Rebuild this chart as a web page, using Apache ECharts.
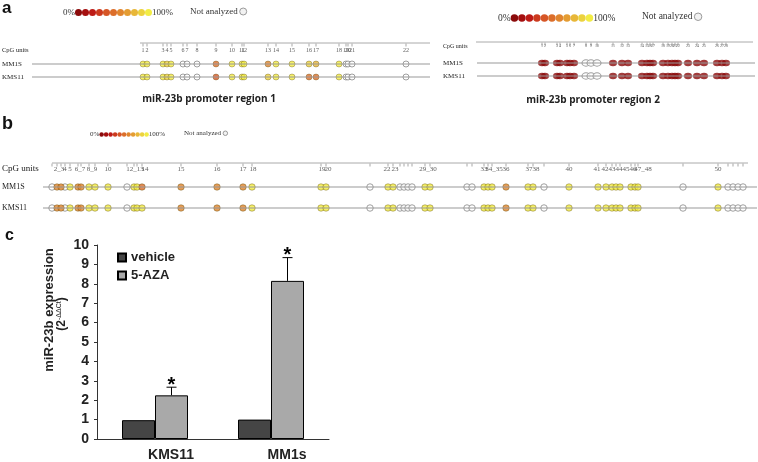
<!DOCTYPE html>
<html lang="en">
<head>
<meta charset="UTF-8">
<title>miR-23b promoter methylation and expression</title>
<script src="https://cdn.jsdelivr.net/npm/echarts@6/dist/echarts.min.js"></script>
<style>html,body{margin:0;padding:0;background:#fff}</style>
</head>
<body>
<div id="main" style="width:758px;height:462px"></div>
<script>
// methylation levels are in tenths: 0 = 0%, 10 = 100%, null = not analyzed
// positions are measured along each region from the start of the CpG ruler

// a - promoter region 1
var r1Pos = [3, 7, 23, 27, 31, 43, 47, 57, 76, 92, 102, 104, 128, 136, 152, 169, 176, 199, 206, 208, 212, 266];
var r1Units = ['1', '2', '3', '4', '5', '6', '7', '8', '9', '10', '11', '12', '13', '14', '15', '16', '17', '18', '19', '20', '21', '22'];
var r1MM1S = [10, 10, 10, 9, 10, null, null, null, 5, 10, 10, 10, 6, 10, 10, 9, 8, 10, null, null, null, null];
var r1KMS11 = [10, 10, 10, 9, 10, null, null, null, 4, 10, 10, 10, 9, 10, 10, 5, 5, 10, null, null, null, null];

// a - promoter region 2
var r2Pos = [67, 70, 82, 85, 92, 95, 99, 111, 116, 122, 138, 147, 153, 167, 172, 175, 178, 188, 193, 197, 200, 203, 213, 222, 229, 242, 247, 251];
var r2Units = ['1', '2', '3', '4', '5', '6', '7', '8', '9', '10', '11', '12', '13', '14', '15', '16', '17', '18', '19', '20', '21', '22', '23', '24', '25', '26', '27', '28'];
var r2MM1S = [0, 0, 0, 0, 0, 0, 0, null, null, null, 0, 0, 0, 0, 0, 0, 0, 0, 0, 0, 0, 0, 0, 0, 0, 0, 0, 0];
var r2KMS11 = [0, 0, 0, 0, 0, 0, 0, null, null, null, 0, 0, 0, 0, 0, 0, 0, 0, 0, 0, 0, 0, 0, 0, 0, 0, 0, 0];

// b - extended region
var bPos = [0, 5, 9, 13, 18, 26, 29, 37, 43, 56, 75, 82, 85, 90, 129, 165, 191, 200, 269, 274, 318, 336, 341, 348, 352, 356, 360,
    373, 378, 415, 420, 432, 436, 440, 454, 476, 481, 492, 517, 546, 554, 560, 564, 568, 579, 583, 586, 631, 666, 676, 681, 686, 691];
var bMM1S = [null, 6, 6, null, 10, 6, 6, 10, 10, 10, null, 10, 10, 5, 6, 6, 6, 10, 10, 10, null, 10, 10, null, null, null, null,
    10, 10, null, null, 10, 10, 10, 6, 10, 10, null, 10, 10, 10, 10, 10, 10, 10, 10, 10, null, 10, null, null, null, null];
var bKMS11 = [null, 6, 6, null, 10, 6, 6, 10, 10, 10, null, 10, 10, 10, 6, 6, 6, 10, 10, 10, null, 10, 10, null, null, null, null,
    10, 10, null, null, 10, 10, 10, 6, 10, 10, null, 10, 10, 10, 10, 10, 10, 10, 10, 10, null, 10, null, null, null, null];
var bLabelPos = [7, 13, 18, 28, 40, 56, 83, 93, 129, 165, 191, 201, 270, 276, 335, 343, 376, 432, 442, 454, 477, 484, 517,
    545, 553, 560, 567, 574, 581, 591, 666];
var bLabelText = ['2_3', '4', '5', '6_7', '8_9', '10', '12_13', '14', '15', '16', '17', '18', '19', '20', '22', '23', '29_30', '33', '34_35', '36', '37', '38', '40',
    '41', '42', '43', '44', '45', '46', '47_48', '50'];

// c - miR-23b expression
var cellLines = ['KMS11', 'MM1s'];
var vehicle = [0.97, 1.0];
var aza = [2.25, 8.15];
var azaErr = [0.42, 1.2];

var methColors = ['#8b0b0b', '#a50f0f', '#bd1b16', '#cc3a1e', '#d65626', '#dc6e2a', '#e0852e', '#e49c32', '#e8b738', '#ecd23e', '#f2ec44'];
var serif = 'Liberation Serif';
var sans = 'Liberation Sans';

var myChart = echarts.init(document.getElementById('main'));
var grids = [], xAxes = [], yAxes = [], series = [], visualMaps = [], graphics = [];

function txt(x, y, s, size, font, extra) {
    var st = {text: s, fontSize: size, fontFamily: font, fill: '#222', verticalAlign: 'middle', align: 'left'};
    for (var k in extra) st[k] = extra[k];
    graphics.push({type: 'text', x: x, y: y, style: st, silent: true});
}

function notAnalyzed(x, y, size, r) {
    txt(x, y, 'Not analyzed', size, serif, {fill: '#333'});
    graphics.push({type: 'circle', shape: {cx: x + size * 5.3 + r + 2, cy: y, r: r}, style: {fill: '#f2f2f2', stroke: '#999', lineWidth: 1}, silent: true});
}

// one methylation panel: ruler with CpG ticks and labels, then one line of dots per cell line
function addPanel(p) {
    var gi = grids.length;
    grids.push({left: p.rulerLeft + p.xMin, width: p.xMax - p.xMin, top: p.top, height: p.height});
    xAxes.push({type: 'value', gridIndex: gi, min: p.xMin, max: p.xMax, show: false});
    yAxes.push({type: 'value', gridIndex: gi, min: 0, max: p.height, inverse: true, show: false});
    var base = {xAxisIndex: gi, yAxisIndex: gi, silent: true, animation: false};
    function s(o) { for (var k in base) o[k] = base[k]; series.push(o); return series.length - 1; }

    s({type: 'line', data: [[0, p.rulerY], [p.rulerLen, p.rulerY]], symbol: 'none', lineStyle: {color: '#aaa', width: 1}});
    s({type: 'scatter', data: p.pos.map(function (x) { return [x, p.rulerY + 2]; }), symbol: 'rect', symbolSize: [0.8, 3], itemStyle: {color: '#777'}});
    s({type: 'scatter', data: p.labelPos.map(function (x, i) { return {value: [x, p.labelY], name: p.labelText[i]}; }),
        symbolSize: 0, label: {show: true, position: 'inside', formatter: '{b}', fontSize: p.labelFont, fontFamily: serif, color: '#333'}});

    var dotIdx = [];
    p.rows.forEach(function (row) {
        s({type: 'line', data: [[p.xMin, row.y], [p.xMax, row.y]], symbol: 'none', lineStyle: {color: '#999', width: 1}});
        var done = [], na = [];
        p.pos.forEach(function (x, i) {
            if (row.levels[i] === null) na.push([x, row.y]);
            else done.push([x, row.y, row.levels[i]]);
        });
        s({type: 'scatter', data: na, symbolSize: p.dot, itemStyle: {color: '#fff', borderColor: '#888', borderWidth: 1}});
        dotIdx.push(s({type: 'scatter', data: done, symbolSize: p.dot, itemStyle: {borderColor: p.dotBorder, borderWidth: p.dotBorder ? 0.8 : 0}}));
        txt(p.nameX, p.top + row.y, row.name, p.nameFont, serif);
    });
    txt(p.nameX, p.top + p.labelY, 'CpG units', p.cpgFont, serif);

    visualMaps.push({
        type: 'piecewise', seriesIndex: dotIdx, dimension: 2, orient: 'horizontal',
        left: p.legendLeft, top: p.legendTop, padding: 0,
        pieces: methColors.map(function (c, i) { return {value: i, color: c}; }),
        itemWidth: p.legendDot, itemHeight: p.legendDot, itemGap: 0, itemSymbol: 'circle',
        text: ['100%', '0%'], textGap: 3, showLabel: false, selectedMode: false, hoverLink: false,
        textStyle: {fontFamily: serif, fontSize: p.legendFont, color: '#333'}
    });
    notAnalyzed(p.naX, p.legendTop + p.legendDot / 2, p.legendFont, p.legendDot / 2);
}

addPanel({
    rulerLeft: 140, xMin: -108, xMax: 290, rulerLen: 290, top: 38, height: 44, rulerY: 5, labelY: 12,
    pos: r1Pos, labelPos: r1Pos, labelText: r1Units, labelFont: 6,
    rows: [{name: 'MM1S', y: 26, levels: r1MM1S}, {name: 'KMS11', y: 39, levels: r1KMS11}],
    dot: 6, dotBorder: 'rgba(90,70,0,0.55)', nameX: 2, nameFont: 7, cpgFont: 6.5,
    legendLeft: 63, legendTop: 8, legendDot: 7, legendFont: 9, naX: 190
});
addPanel({
    rulerLeft: 475, xMin: 2, xMax: 280, rulerLen: 278, top: 37, height: 44, rulerY: 5, labelY: 9,
    pos: r2Pos, labelPos: r2Pos, labelText: r2Units, labelFont: 4,
    rows: [{name: 'MM1S', y: 26, levels: r2MM1S}, {name: 'KMS11', y: 39, levels: r2KMS11}],
    dot: [8, 6.5], dotBorder: null, nameX: 443, nameFont: 7, cpgFont: 6,
    legendLeft: 498, legendTop: 13, legendDot: 7.5, legendFont: 9.5, naX: 642
});
addPanel({
    rulerLeft: 52, xMin: -9, xMax: 705, rulerLen: 696, top: 158, height: 55, rulerY: 5, labelY: 11,
    pos: bPos, labelPos: bLabelPos, labelText: bLabelText, labelFont: 7,
    rows: [{name: 'MM1S', y: 29, levels: bMM1S}, {name: 'KMS11', y: 50, levels: bKMS11}],
    dot: 6.5, dotBorder: 'rgba(90,70,0,0.6)', nameX: 2, nameFont: 8, cpgFont: 9,
    legendLeft: 90, legendTop: 131, legendDot: 4.5, legendFont: 7, naX: 184
});

txt(2, 8, 'a', 17, sans, {fontWeight: 'bold', fill: '#111'});
txt(2, 124, 'b', 18, sans, {fontWeight: 'bold', fill: '#111'});
txt(5, 236, 'c', 16, sans, {fontWeight: 'bold', fill: '#111'});
txt(209, 99, 'miR-23b promoter region 1', 10, 'Open Sans', {fontWeight: 'bold', align: 'center'});
txt(593, 100, 'miR-23b promoter region 2', 10, 'Open Sans', {fontWeight: 'bold', align: 'center'});

// c - bar chart
var ci = grids.length;
var barW = 33;
grids.push({left: 97, top: 245, width: 232, height: 195});
xAxes.push({type: 'category', gridIndex: ci, data: cellLines,
    axisLine: {lineStyle: {color: '#333'}}, axisTick: {length: 5, lineStyle: {color: '#333'}},
    axisLabel: {fontFamily: sans, fontWeight: 'bold', fontSize: 14, color: '#222', margin: 9, padding: [0, 0, 0, 32]}});
yAxes.push({type: 'value', gridIndex: ci, min: 0, max: 10, interval: 1,
    axisLine: {show: true, lineStyle: {color: '#333'}}, axisTick: {show: true, length: 3, lineStyle: {color: '#333'}},
    splitLine: {show: false},
    axisLabel: {fontFamily: sans, fontWeight: 'bold', fontSize: 14, color: '#222', margin: 8}});

series.push({name: 'vehicle', type: 'bar', xAxisIndex: ci, yAxisIndex: ci, data: vehicle, barWidth: barW, barGap: '0%',
    itemStyle: {color: '#454545', borderColor: '#000', borderWidth: 1}, animation: false});
series.push({name: '5-AZA', type: 'bar', xAxisIndex: ci, yAxisIndex: ci, data: aza, barWidth: barW,
    itemStyle: {color: '#a9a9a9', borderColor: '#000', borderWidth: 1}, animation: false});
series.push({type: 'custom', xAxisIndex: ci, yAxisIndex: ci, animation: false, silent: true,
    data: aza.map(function (v, i) { return [i, v, v + azaErr[i]]; }),
    renderItem: function (params, api) {
        var b = api.coord([api.value(0), api.value(1)]);
        var t = api.coord([api.value(0), api.value(2)]);
        var x = b[0] + barW / 2;
        return {type: 'group', children: [
            {type: 'line', shape: {x1: x, y1: b[1], x2: x, y2: t[1]}, style: {stroke: '#000', lineWidth: 1}},
            {type: 'line', shape: {x1: x - 5, y1: t[1], x2: x + 5, y2: t[1]}, style: {stroke: '#000', lineWidth: 1}},
            {type: 'text', x: x, y: t[1] - 12, style: {text: '*', fontSize: 20, fontWeight: 'bold', fontFamily: sans, fill: '#000', align: 'center', verticalAlign: 'top'}}
        ]};
    }});

graphics.push({type: 'text', x: 49, y: 310, rotation: Math.PI / 2, silent: true,
    style: {text: 'miR-23b expression', fontSize: 13, fontWeight: 'bold', fontFamily: sans, fill: '#222', align: 'center', verticalAlign: 'middle'}});
graphics.push({type: 'text', x: 62, y: 314, rotation: Math.PI / 2, silent: true,
    style: {text: '{b|(2}{s|-ΔΔCt}{b|)}', align: 'center', verticalAlign: 'middle',
        rich: {b: {fontSize: 12, fontWeight: 'bold', fontFamily: sans, fill: '#222', verticalAlign: 'bottom'},
               s: {fontSize: 7, fontFamily: sans, fill: '#222', verticalAlign: 'top'}}}});

myChart.setOption({
    animation: false,
    grid: grids,
    xAxis: xAxes,
    yAxis: yAxes,
    visualMap: visualMaps,
    legend: {data: ['vehicle', '5-AZA'], orient: 'vertical', left: 112, top: 246, itemWidth: 8, itemHeight: 8, itemGap: 5,
        icon: 'rect', textStyle: {fontFamily: sans, fontWeight: 'bold', fontSize: 13, color: '#222'}, selectedMode: false},
    series: series,
    graphic: graphics
});
</script>
</body>
</html>
